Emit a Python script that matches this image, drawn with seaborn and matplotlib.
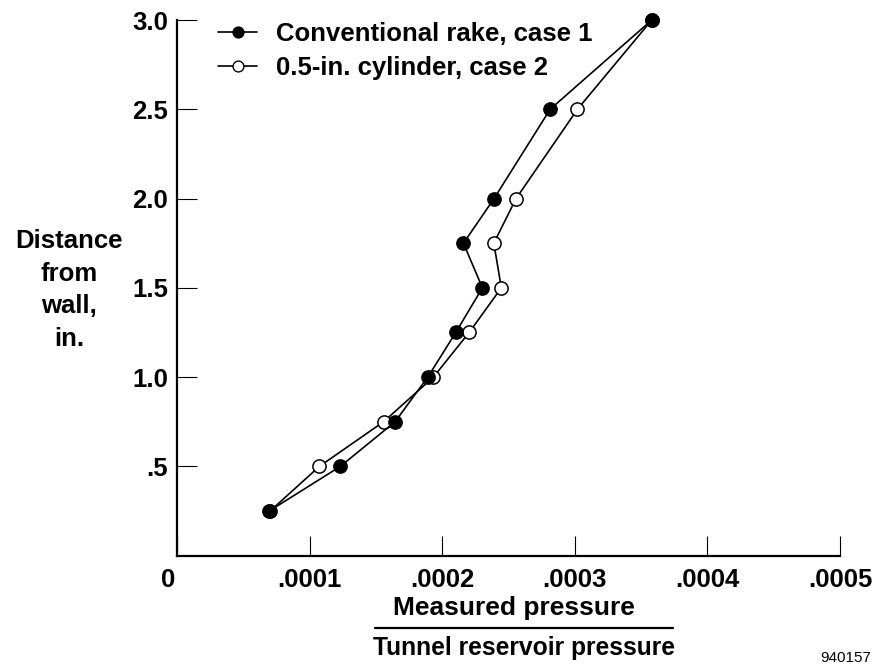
import matplotlib
matplotlib.use("Agg")
import matplotlib.pyplot as plt
import matplotlib.transforms as mtransforms
import seaborn as sns
import pandas as pd
from matplotlib.lines import Line2D

distance = [0.25, 0.5, 0.75, 1.0, 1.25, 1.5, 1.75, 2.0, 2.5, 3.0]
rake_case1 = [0.0000693, 0.0001230, 0.0001643, 0.0001890, 0.0002101, 0.0002302, 0.0002159, 0.0002390, 0.0002813, 0.0003580]
cyl_case2 = [0.0000700, 0.0001072, 0.0001556, 0.0001932, 0.0002202, 0.0002445, 0.0002388, 0.0002556, 0.0003019, 0.0003580]

label1 = "Conventional rake, case 1"
label2 = "0.5-in. cylinder, case 2"

xticks = [0, 0.0001, 0.0002, 0.0003, 0.0004, 0.0005]
xtick_labels = ["0", ".0001", ".0002", ".0003", ".0004", ".0005"]
yticks = [0.5, 1.0, 1.5, 2.0, 2.5, 3.0]
ytick_labels = [".5", "1.0", "1.5", "2.0", "2.5", "3.0"]

df1 = pd.DataFrame({"pressure": rake_case1, "distance": distance})
df2 = pd.DataFrame({"pressure": cyl_case2, "distance": distance})

sns.set_theme(style="ticks")
plt.rcParams["font.family"] = ["Liberation Sans", "DejaVu Sans"]
plt.rcParams["font.weight"] = "bold"
plt.rcParams["text.color"] = "black"
plt.rcParams["axes.labelcolor"] = "black"
plt.rcParams["xtick.color"] = "black"
plt.rcParams["ytick.color"] = "black"

FS = 18.5

fig = plt.figure(figsize=(8.8, 6.66), dpi=100)
ax = fig.add_axes([177.3 / 880, 1 - 555.7 / 666, 662.7 / 880, 535.7 / 666])

common = dict(x="pressure", y="distance", sort=False, estimator=None,
              color="black", linewidth=1.2, marker="o", markersize=9.5,
              markeredgecolor="black", markeredgewidth=1.1, clip_on=False, ax=ax)
sns.lineplot(data=df2, markerfacecolor="white", **common)
sns.lineplot(data=df1, markerfacecolor="black", **common)

ax.set_xlim(0, 0.0005)
ax.set_ylim(0, 3.0)
ax.set_xticks(xticks)
ax.set_xticklabels(xtick_labels)
ax.set_yticks(yticks)
ax.set_yticklabels(ytick_labels)
ax.tick_params(direction="in", length=14.5, width=0.8, color="black",
               labelsize=FS, labelcolor="black", pad=6.5)
ax.tick_params(axis="x", pad=9)
for lab in ax.get_xticklabels() + ax.get_yticklabels():
    lab.set_fontweight("bold")
# the "0" label sits slightly left of the corner in the reference
zero_lab = ax.get_xticklabels()[0]
zero_lab.set_transform(zero_lab.get_transform() +
                       mtransforms.ScaledTranslation(-9 / 100, 0, fig.dpi_scale_trans))
for side in ["top", "right"]:
    ax.spines[side].set_visible(False)
for side in ["left", "bottom"]:
    ax.spines[side].set_linewidth(1.6)
    ax.spines[side].set_color("black")
ax.set_xlabel("")
ax.set_ylabel("")
if ax.get_legend():
    ax.get_legend().remove()

h1 = Line2D([], [], color="black", linewidth=1.2, marker="o", markersize=7.8,
            markerfacecolor="black", markeredgecolor="black")
h2 = Line2D([], [], color="black", linewidth=1.2, marker="o", markersize=7.8,
            markerfacecolor="white", markeredgecolor="black", markeredgewidth=1.0)
ax.legend([h1, h2], [label1, label2], loc="center left",
          bbox_to_anchor=((218 - 177.3) / 662.7, 1 - 30.8 / 535.7),
          frameon=False, borderaxespad=0, borderpad=0, handlelength=1.52,
          handletextpad=0.74, labelspacing=0.41,
          prop={"size": FS, "weight": "bold"})

fig.text(69 / 880, 1 - 290 / 666, "Distance\nfrom\nwall,\nin.", ha="center", va="center",
         fontsize=FS, fontweight="bold", linespacing=1.47)
fig.text(514 / 880, 1 - 607.5 / 666, "Measured pressure", ha="center", va="center",
         fontsize=19, fontweight="bold")
fig.add_artist(Line2D([375 / 880, 673 / 880], [1 - 627.5 / 666, 1 - 627.5 / 666],
                      color="black", linewidth=1.6, transform=fig.transFigure))
fig.text(524 / 880, 1 - 648 / 666, "Tunnel reservoir pressure", ha="center", va="center",
         fontsize=17.7, fontweight="bold")
fig.text(820 / 880, 1 - 665 / 666, "940157", ha="left", va="bottom",
         fontsize=11, fontweight="normal")

fig.savefig("out.png", dpi=100)
